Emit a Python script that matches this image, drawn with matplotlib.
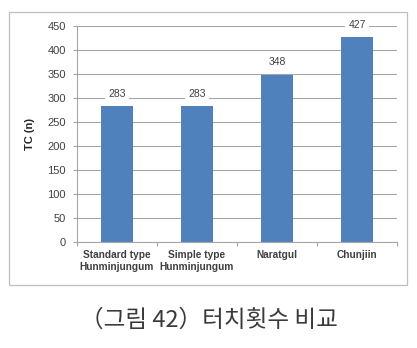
import matplotlib.pyplot as plt
from matplotlib.patches import Rectangle

categories = ["Standard type\nHunminjungum", "Simple type\nHunminjungum", "Naratgul", "Chunjiin"]
touch_counts = [283, 283, 348, 427]
y_ticks = list(range(0, 451, 50))

fig = plt.figure(figsize=(4.17, 3.48), dpi=100)

# outer chart frame like the excel export
fig.patches.append(Rectangle((9 / 417, 1 - 285 / 348), 398 / 417, 273 / 348,
                             transform=fig.transFigure, fill=False,
                             edgecolor="#bfbfbf", linewidth=0.9))

ax = fig.add_axes([77 / 417, 1 - 242 / 348, 320 / 417, 216 / 348])
x = range(len(categories))
bars = ax.bar(x, touch_counts, width=0.41, color="#4f81bd", zorder=2)

for xi, v in zip(x, touch_counts):
    ax.annotate(str(v), (xi, v), xytext=(0, 9), textcoords="offset points",
                ha="center", va="center", fontsize=7.5, color="#404040",
                family="Liberation Sans",
                bbox=dict(boxstyle="square,pad=0.3", fc="white", ec="none"),
                zorder=3)

ax.set_xlim(-0.5, 3.5)
ax.set_ylim(0, 450)
ax.set_yticks(y_ticks)
ax.set_yticklabels([str(t) for t in y_ticks], fontsize=8, color="#404040",
                   family="Liberation Sans")
ax.yaxis.grid(True, color="#a6a6a6", linewidth=0.8, zorder=0)
ax.set_axisbelow(True)

ax.set_xticks([i + 0.5 for i in range(-1, 4)], minor=False)
ax.set_xticklabels([])
ax.set_xticks(list(x), minor=True)
ax.set_xticklabels(categories, minor=True, fontsize=7.3, fontweight="bold",
                   color="#404040", family="Liberation Sans", linespacing=1.25)
ax.tick_params(axis="x", which="minor", length=0, pad=6)
ax.tick_params(axis="x", which="major", length=3, color="#a6a6a6", width=0.8)
ax.tick_params(axis="y", length=3, color="#a6a6a6", width=0.8, pad=5)

for s in ["top", "right"]:
    ax.spines[s].set_visible(False)
ax.spines["left"].set_color("#a6a6a6")
ax.spines["bottom"].set_color("#a6a6a6")
ax.spines["left"].set_linewidth(0.8)
ax.spines["bottom"].set_linewidth(0.8)

ax.set_ylabel("TC (n)", fontsize=8, fontweight="bold", color="#262626",
              family="Liberation Sans", labelpad=9)

fig.text(209 / 417, 1 - 320 / 348, "（그림 42）터치횟수 비교", ha="center", va="center",
         fontsize=17, color="#3a3a3a",
         family=["Noto Sans CJK KR", "DejaVu Sans"])

fig.savefig("out.png", dpi=100)
